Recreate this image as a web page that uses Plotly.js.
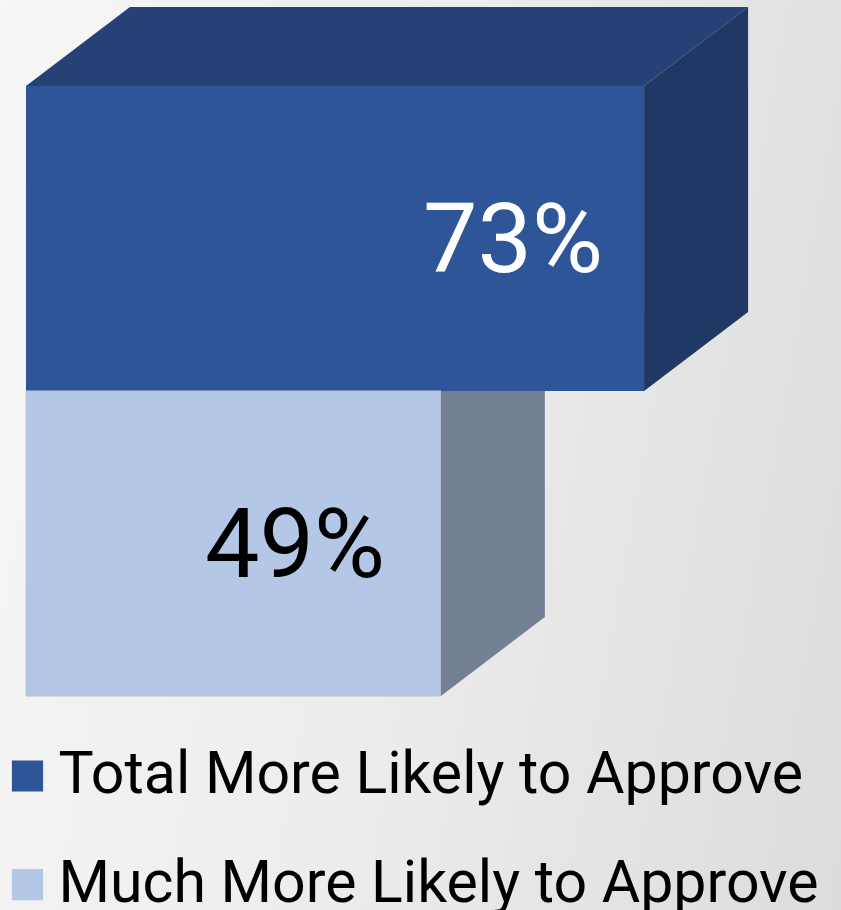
<!DOCTYPE html>
<html>
<head>
<meta charset="utf-8">
<script src="https://cdn.plot.ly/plotly-3.0.1.min.js"></script>
<style>
  html, body { margin: 0; padding: 0; width: 841px; height: 910px; overflow: hidden;
    background: linear-gradient(100deg, #f6f6f6 0%, #ececec 50%, #dcdcdc 100%); }
  #chart { width: 841px; height: 910px; position: relative; }
</style>
</head>
<body>
<div id="chart"></div>
<script>
// ---- data ----
const seriesNames = ["Total More Likely to Approve", "Much More Likely to Approve"];
const seriesValues = [73, 49];
const labelTexts = ["73%", "49%"];
const barColors = ["#2E5597", "#B4C7E7"];
const topColors = ["#254176", "#8FA3C6"];
const sideColors = ["#203864", "#738094"];
const labelColors = ["#ffffff", "#000000"];

// ---- 3D geometry (depth offset in axis units) ----
const DX = 12.28;   // depth along x
const DY = 0.259;   // depth along y
const yPos = [1, 0];
const half = 0.5;
const labelPad = [4.6, 6.4];
const PX_PER_X = 8.467;   // pixels per percentage point
const PX_PER_Y = 305;     // pixels per category band

const traces = [];
seriesValues.forEach((v, i) => {
  const y0 = yPos[i] - half, y1 = yPos[i] + half;
  if (i === 0) {
    traces.push({type: 'scatter', mode: 'lines', fill: 'toself',
      x: [0, DX, v + DX, v, 0], y: [y1, y1 + DY, y1 + DY, y1, y1],
      fillcolor: topColors[i], line: {width: 0}, showlegend: false, hoverinfo: 'skip'});
    traces.push({type: 'scatter', mode: 'lines', fill: 'toself',
      x: [v, v + DX, v + DX, v, v], y: [y1, y1 + DY, y0 + DY, y0, y1],
      fillcolor: sideColors[i], line: {width: 0}, showlegend: false, hoverinfo: 'skip'});
  } else {
    traces.push({type: 'scatter', mode: 'lines', fill: 'toself',
      x: [v, v + DX, v + DX, v, v], y: [y1, y1, y0 + DY, y0, y1],
      fillcolor: sideColors[i], line: {width: 0}, showlegend: false, hoverinfo: 'skip'});
  }
});
seriesValues.forEach((v, i) => {
  traces.push({type: 'bar', orientation: 'h', name: seriesNames[i],
    x: [v], y: [yPos[i]], width: 1,
    marker: {color: barColors[i], line: {width: i === 1 ? 1 : 0, color: '#c4c4c4'}},
    legendgroup: 'g' + i, hoverinfo: 'skip'});
});

const annotations = seriesValues.map((v, i) => ({
  x: v - labelPad[i], y: yPos[i], xref: 'x', yref: 'y', xanchor: 'right', yanchor: 'middle',
  text: labelTexts[i], showarrow: false,
  font: {family: 'Roboto, sans-serif', size: 97, color: labelColors[i]}
}));

// full-size plot area; axis ranges place x=0 at 26px and the bottom bar's base at 696px
const layout = {
  width: 841, height: 910,
  margin: {l: 0, r: 0, t: 0, b: 0, pad: 0},
  paper_bgcolor: 'rgba(0,0,0,0)', plot_bgcolor: 'rgba(0,0,0,0)',
  barmode: 'overlay',
  showlegend: true,
  xaxis: {range: [-26 / PX_PER_X, (841 - 26) / PX_PER_X], visible: false, fixedrange: true},
  yaxis: {range: [-0.5 - (910 - 696) / PX_PER_Y, -0.5 + 696 / PX_PER_Y], visible: false, fixedrange: true},
  legend: {x: 8 / 841, xanchor: 'left', y: 0, yanchor: 'bottom', orientation: 'v',
    traceorder: 'grouped', tracegroupgap: 29, itemwidth: 40,
    font: {family: 'Roboto, sans-serif', size: 59, color: '#000000'},
    bgcolor: 'rgba(0,0,0,0)'},
  annotations: annotations
};

Plotly.newPlot('chart', traces, layout, {displayModeBar: false, staticPlot: true}).then(gd => {
  const paths = gd.querySelectorAll('.legend .legendpoints path');
  paths.forEach(p => {
    const t = p.getAttribute('transform') || '';
    p.setAttribute('transform', t + ' translate(-6,6) scale(2.6)');
    p.style.strokeWidth = '0px';
  });
  // move the legend so the first swatch sits where the reference has it
  const leg = gd.querySelector('g.legend');
  if (leg && paths.length) {
    const box = gd.getBoundingClientRect();
    const r = paths[0].getBoundingClientRect();
    const cx = r.left - box.left + r.width / 2;
    const cy = r.top - box.top + r.height / 2;
    const m = /translate\(\s*([-\d.e]+)[ ,]+([-\d.e]+)\s*\)/.exec(leg.getAttribute('transform') || '');
    if (m) {
      const nx = parseFloat(m[1]) + (27.5 - cx);
      const ny = parseFloat(m[2]) + (776 - cy);
      leg.setAttribute('transform', 'translate(' + nx + ',' + ny + ')');
    }
  }
});
</script>
</body>
</html>
